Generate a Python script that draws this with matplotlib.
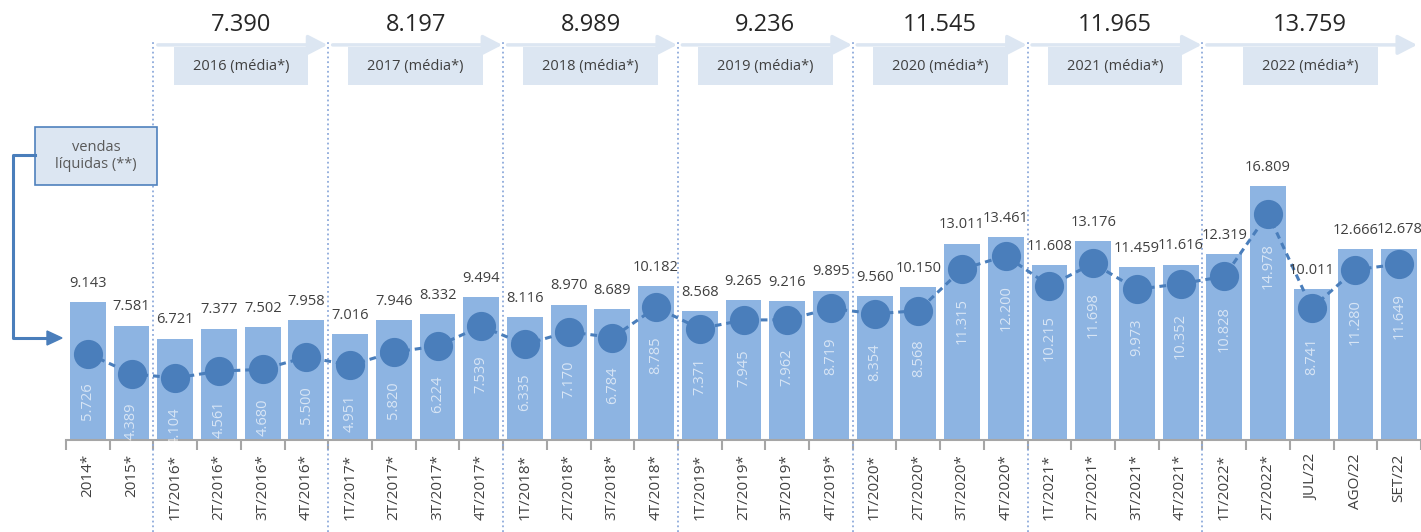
import matplotlib.pyplot as plt
import matplotlib.transforms as mtransforms
from matplotlib.patches import Rectangle, Polygon
from matplotlib.lines import Line2D
import numpy as np

plt.rcParams['font.family'] = ['Open Sans', 'DejaVu Sans']

# ---- data (R$ mil) ----
categories = ['2014*', '2015*',
              '1T/2016*', '2T/2016*', '3T/2016*', '4T/2016*',
              '1T/2017*', '2T/2017*', '3T/2017*', '4T/2017*',
              '1T/2018*', '2T/2018*', '3T/2018*', '4T/2018*',
              '1T/2019*', '2T/2019*', '3T/2019*', '4T/2019*',
              '1T/2020*', '2T/2020*', '3T/2020*', '4T/2020*',
              '1T/2021*', '2T/2021*', '3T/2021*', '4T/2021*',
              '1T/2022*', '2T/2022*', 'JUL/22', 'AGO/22', 'SET/22']
bar_values = [9.143, 7.581,
              6.721, 7.377, 7.502, 7.958,
              7.016, 7.946, 8.332, 9.494,
              8.116, 8.970, 8.689, 10.182,
              8.568, 9.265, 9.216, 9.895,
              9.560, 10.150, 13.011, 13.461,
              11.608, 13.176, 11.459, 11.616,
              12.319, 16.809, 10.011, 12.666, 12.678]
net_sales = [5.726, 4.389,
             4.104, 4.561, 4.680, 5.500,
             4.951, 5.820, 6.224, 7.539,
             6.335, 7.170, 6.784, 8.785,
             7.371, 7.945, 7.962, 8.719,
             8.354, 8.568, 11.315, 12.200,
             10.215, 11.698, 9.973, 10.352,
             10.828, 14.978, 8.741, 11.280, 11.649]

years = ['2016', '2017', '2018', '2019', '2020', '2021', '2022']
year_avg = ['7.390', '8.197', '8.989', '9.236', '11.545', '11.965', '13.759']
year_first = [2, 6, 10, 14, 18, 22, 26]
year_last = [5, 9, 13, 17, 21, 25, 30]

BAR = '#8db4e2'
DARK = '#4a7ebb'
PALE = '#dce6f2'
TXT = '#404040'

W, H = 1421, 532
fig = plt.figure(figsize=(W / 100, H / 100), dpi=100)
ax = fig.add_axes([66 / W, 92 / H, 1 - 66 / W, 440 / H])
xmax = 30.43
ax.set_xlim(-0.5, xmax)
ax.set_ylim(0, 440 / 15.1)

x = np.arange(len(categories))
ax.bar(x, bar_values, width=0.82, color=BAR, zorder=2)
ax.plot(x, net_sales, color=DARK, lw=2.2, ls=(0, (2.2, 1.6)), zorder=3)
ax.plot(x, net_sales, ls='none', marker='o', ms=20, color=DARK, zorder=4)

for xi, v, n in zip(x, bar_values, net_sales):
    ax.annotate(f'{v:.3f}', (xi, v), xytext=(0, 8), textcoords='offset points',
                ha='center', va='bottom', fontsize=10.5, color=TXT)
    ax.annotate(f'{n:.3f}', (xi, n), xytext=(0, -21), textcoords='offset points',
                ha='center', va='top', rotation=90, fontsize=10.5,
                color='white', alpha=0.65, zorder=5)

# axis styling
for s in ['top', 'left', 'right']:
    ax.spines[s].set_visible(False)
ax.spines['bottom'].set_color('#a6a6a6')
ax.spines['bottom'].set_linewidth(1.5)
ax.set_yticks([])
ax.set_xticks(x)
ax.set_xticklabels(categories, rotation=90, fontsize=11, color=TXT)
ax.tick_params(axis='x', which='major', length=0, pad=10)
ax.set_xticks(np.arange(-0.5, len(categories), 1), minor=True)
ax.tick_params(axis='x', which='minor', length=7, width=1.5, color='#a6a6a6')

# year headers
trans = mtransforms.blended_transform_factory(ax.transData, ax.transAxes)
for yr, avg, a, b in zip(years, year_avg, year_first, year_last):
    left = a - 0.5
    right = min(b + 0.5, xmax)
    ax.plot([left, left], [-0.21, 0.905], transform=trans, clip_on=False,
            color='#8eaadb', ls=':', lw=1.3)
    ax.annotate('', xy=(right - 0.02, 0.898), xytext=(left + 0.1, 0.898),
                xycoords=trans, textcoords=trans, annotation_clip=False,
                arrowprops=dict(arrowstyle='-|>,head_length=0.58,head_width=0.3',
                                mutation_scale=20, lw=2.5, color=PALE,
                                shrinkA=0, shrinkB=0))
    mid = (left + right) / 2
    ax.add_patch(Rectangle((mid - 1.54, 0.807), 3.08, 0.086, transform=trans,
                           facecolor=PALE, edgecolor='none', clip_on=False))
    ax.text(mid, 0.849, f'{yr} (média*)', transform=trans, ha='center',
            va='center', fontsize=10.5, color=TXT)
    ax.text(mid, 0.943, avg, transform=trans, ha='center', va='center',
            fontsize=17, color='#262626')


def fx(px):
    return px / W


def fy(py):
    return 1 - py / H


# "vendas líquidas" callout
fig.add_artist(Rectangle((fx(35), fy(185)), 122 / W, 58 / H, transform=fig.transFigure,
                         facecolor=PALE, edgecolor='#4f81bd', lw=1.2))
fig.text(fx(96), fy(156), 'vendas\nlíquidas (**)', ha='center', va='center',
         fontsize=10.5, color='#595959', linespacing=1.25)
fig.add_artist(Line2D([fx(35), fx(13), fx(13), fx(50)],
                      [fy(155), fy(155), fy(338), fy(338)],
                      transform=fig.transFigure, color=DARK, lw=2.2))
fig.add_artist(Polygon([[fx(62), fy(338)], [fx(47), fy(331)], [fx(47), fy(345)]],
                       closed=True, transform=fig.transFigure, color=DARK))

fig.savefig('out.png', dpi=100)
